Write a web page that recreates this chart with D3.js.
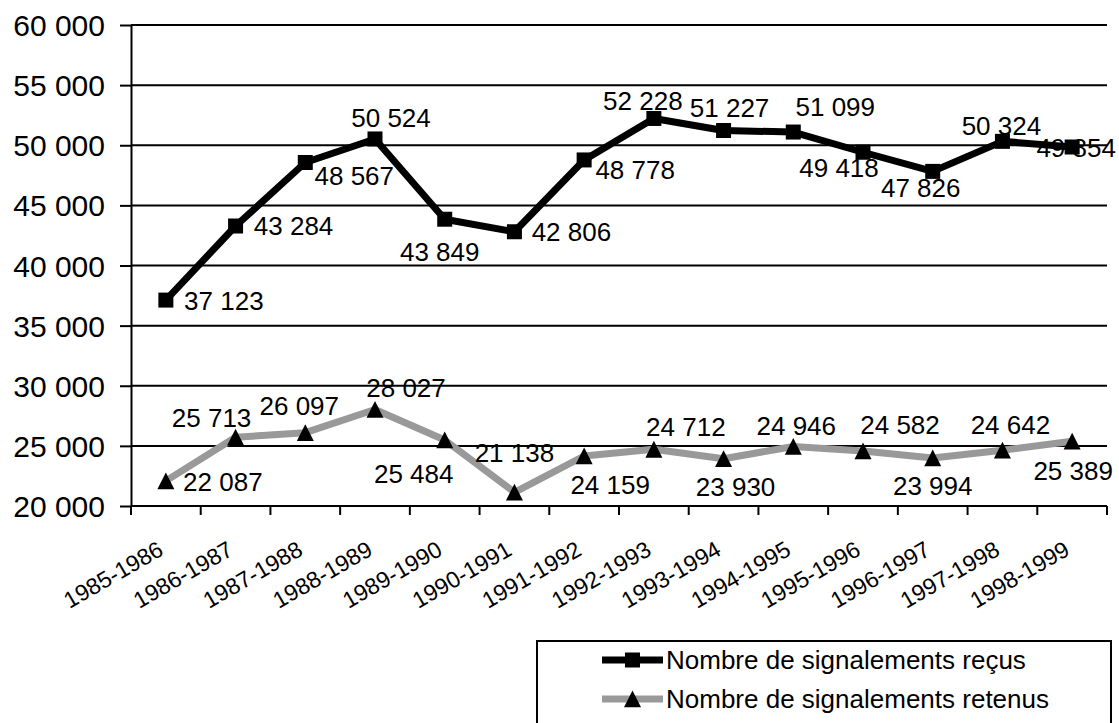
<!DOCTYPE html>
<html lang="fr">
<head>
<meta charset="utf-8">
<title>Signalements reçus et retenus, 1985-1999</title>
<script src="https://cdn.jsdelivr.net/npm/d3@7/dist/d3.min.js"></script>
<style>
  html, body { margin: 0; padding: 0; background: #fff; }
  svg { display: block; font-family: Arial, "Liberation Sans", sans-serif; }
</style>
</head>
<body>
<svg id="chart" width="1119" height="723"></svg>
<script>
// Exercices comptés d'une année sur l'autre
const categories = [
  "1985-1986", "1986-1987", "1987-1988", "1988-1989", "1989-1990",
  "1990-1991", "1991-1992", "1992-1993", "1993-1994", "1994-1995",
  "1995-1996", "1996-1997", "1997-1998", "1998-1999"
];

// Nombre de signalements reçus
const recus = [
  37123, 43284, 48567, 50524, 43849, 42806, 48778,
  52228, 51227, 51099, 49418, 47826, 50324, 49854
];

// Nombre de signalements retenus
const retenus = [
  22087, 25713, 26097, 28027, 25484, 21138, 24159,
  24712, 23930, 24946, 24582, 23994, 24642, 25389
];

const yTicks = [20000, 25000, 30000, 35000, 40000, 45000, 50000, 55000, 60000];

const seriesNames = [
  "Nombre de signalements reçus",
  "Nombre de signalements retenus"
];

// Décalage (centre de l'étiquette par rapport au point), en pixels
const recusLabelOffsets = [
  [58, 1], [58, 0], [49, 13], [16, -21], [-5, 33], [57, 0], [51, 10],
  [-11, -18], [6, -23], [42, -25], [-24, 16], [-12, 17], [-1, -15], [4, 1]
];
const retenusLabelOffsets = [
  [57, 1], [-24, -19], [-6, -27], [31, -22], [-31, 34], [0, -39], [26, 29],
  [32, -22], [12, 28], [3, -21], [37, -26], [0, 28], [8, -25], [1, 30]
];

const frFormat = d3.formatLocale({
  decimal: ",", thousands: "\u00a0", grouping: [3], currency: ["", " €"]
}).format(",d");

const svg = d3.select("#chart");
const plot = { left: 131, right: 1107, top: 25, bottom: 506 };

const x = d3.scaleBand().domain(categories).range([plot.left, plot.right]).padding(0);
const y = d3.scaleLinear().domain([20000, 60000]).range([plot.bottom, plot.top]);
const cx = c => x(c) + x.bandwidth() / 2;

// Quadrillage horizontal
svg.append("g")
  .selectAll("line")
  .data(yTicks)
  .join("line")
  .attr("x1", plot.left).attr("x2", plot.right)
  .attr("y1", d => y(d)).attr("y2", d => y(d))
  .attr("stroke", "#000").attr("stroke-width", 2);

// Axe vertical
const yAxis = svg.append("g")
  .attr("transform", `translate(${plot.left},0)`)
  .call(d3.axisLeft(y).tickValues(yTicks).tickFormat(frFormat).tickSize(11).tickPadding(15).tickSizeOuter(0));
yAxis.select(".domain").attr("stroke", "#000").attr("stroke-width", 2);
yAxis.selectAll(".tick line").attr("stroke", "#000").attr("stroke-width", 2);
yAxis.selectAll(".tick text")
  .attr("font-size", 30).attr("fill", "#000")
  .attr("font-family", "Arial, 'Liberation Sans', sans-serif")
  .attr("dy", "0.35em");

// Axe horizontal : graduations aux limites des catégories
const xAxis = svg.append("g");
xAxis.append("line")
  .attr("x1", plot.left).attr("x2", plot.right)
  .attr("y1", y(20000)).attr("y2", y(20000))
  .attr("stroke", "#000").attr("stroke-width", 2);
xAxis.selectAll("line.tick")
  .data(categories.map(c => x(c)).concat([x(categories[categories.length - 1]) + x.bandwidth()]))
  .join("line")
  .attr("class", "tick")
  .attr("x1", d => d).attr("x2", d => d)
  .attr("y1", y(20000)).attr("y2", y(20000) + 9)
  .attr("stroke", "#000").attr("stroke-width", 2);
xAxis.selectAll("text")
  .data(categories)
  .join("text")
  .attr("transform", c => `translate(${cx(c) - 1},${y(20000) + 48}) rotate(-30)`)
  .attr("text-anchor", "end")
  .attr("font-size", 23)
  .attr("fill", "#000")
  .text(c => c);

// Séries
const series = [
  { name: seriesNames[0], values: recus, color: "#000", marker: "square", offsets: recusLabelOffsets },
  { name: seriesNames[1], values: retenus, color: "#999", marker: "triangle", offsets: retenusLabelOffsets }
];

const squarePath = "M-7.5,-7.5H7.5V7.5H-7.5Z";
const trianglePath = "M0,-8.5L8.5,8.3L-8.5,8.3Z";

const line = d3.line()
  .x((d, i) => cx(categories[i]))
  .y(d => y(d));

// Retenus d'abord, reçus par-dessus
[series[1], series[0]].forEach(s => {
  svg.append("path")
    .datum(s.values)
    .attr("d", line)
    .attr("fill", "none")
    .attr("stroke", s.color)
    .attr("stroke-width", 7)
    .attr("stroke-linejoin", "round");

  svg.append("g")
    .selectAll("path")
    .data(s.values)
    .join("path")
    .attr("transform", (d, i) => `translate(${cx(categories[i])},${y(d)})`)
    .attr("d", s.marker === "square" ? squarePath : trianglePath)
    .attr("fill", "#000");
});

series.forEach(s => {
  svg.append("g")
    .selectAll("text")
    .data(s.values)
    .join("text")
    .attr("x", (d, i) => cx(categories[i]) + s.offsets[i][0])
    .attr("y", (d, i) => y(d) + s.offsets[i][1])
    .attr("dy", "0.35em")
    .attr("text-anchor", "middle")
    .attr("font-size", 26)
    .attr("fill", "#000")
    .text(d => frFormat(d));
});

// Légende
const legend = svg.append("g").attr("transform", "translate(537,641)");
legend.append("rect")
  .attr("x", 0).attr("y", 0).attr("width", 574).attr("height", 92)
  .attr("fill", "#fff").attr("stroke", "#000").attr("stroke-width", 2);

const rows = legend.selectAll("g.row")
  .data(series)
  .join("g")
  .attr("class", "row")
  .attr("transform", (d, i) => `translate(0,${19 + i * 39})`);
rows.append("line")
  .attr("x1", 65).attr("x2", 126).attr("y1", 0).attr("y2", 0)
  .attr("stroke", d => d.color).attr("stroke-width", 7);
rows.append("path")
  .attr("transform", "translate(95.5,0)")
  .attr("d", d => d.marker === "square" ? squarePath : trianglePath)
  .attr("fill", "#000");
rows.append("text")
  .attr("x", 129).attr("y", 0).attr("dy", "0.35em")
  .attr("font-size", 26).attr("fill", "#000")
  .text(d => d.name);
</script>
</body>
</html>
